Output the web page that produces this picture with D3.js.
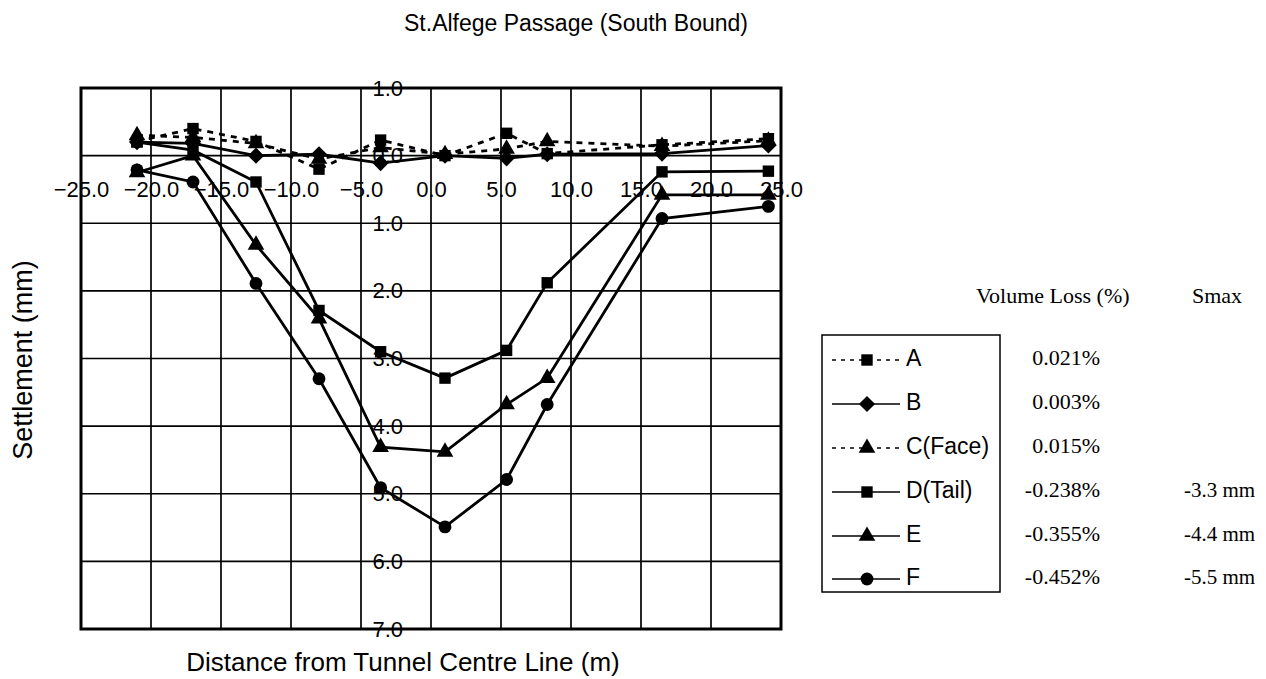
<!DOCTYPE html>
<html><head><meta charset="utf-8">
<script src="https://cdn.jsdelivr.net/npm/d3@7"></script>
<style>
body{margin:0;background:#fff;}
text{fill:#000;}
</style></head>
<body>
<svg id="chart" width="1266" height="679"></svg>
<script>
// ---- data ----
const distances = [-21, -17, -12.5, -8, -3.6, 1, 5.4, 8.3, 16.5, 24.1];
const seriesNames = ["A", "B", "C(Face)", "D(Tail)", "E", "F"];
const seriesA = [-0.21, -0.40, -0.21, 0.20, -0.23, 0.00, -0.33, -0.03, -0.16, -0.25];
const seriesB = [-0.20, -0.18, 0.00, -0.02, 0.11, 0.00, 0.04, -0.02, -0.03, -0.15];
const seriesC = [-0.30, -0.27, -0.18, 0.05, -0.12, -0.02, -0.10, -0.21, -0.14, -0.22];
const seriesD = [-0.20, -0.08, 0.39, 2.29, 2.90, 3.29, 2.88, 1.88, 0.24, 0.23];
const seriesE = [0.25, 0.00, 1.32, 2.41, 4.31, 4.38, 3.68, 3.29, 0.58, 0.58];
const seriesF = [0.21, 0.39, 1.89, 3.30, 4.91, 5.49, 4.79, 3.68, 0.93, 0.75];
const volumeLoss = ["0.021%", "0.003%", "0.015%", "-0.238%", "-0.355%", "-0.452%"];
const smax = ["", "", "", "-3.3 mm", "-4.4 mm", "-5.5 mm"];
const xTicks = [-25, -20, -15, -10, -5, 0, 5, 10, 15, 20, 25];
const yTicks = [-1, 0, 1, 2, 3, 4, 5, 6, 7];
const yTickLabels = ["1.0", "0.0", "1.0", "2.0", "3.0", "4.0", "5.0", "6.0", "7.0"];
const markers = ["square", "diamond", "triangle", "square", "triangle", "circle"];
const dashed = [true, false, true, false, false, false];

const svg = d3.select("#chart");
const x = d3.scaleLinear().domain([-25, 25]).range([81, 781]);
const y = d3.scaleLinear().domain([-1, 7]).range([88, 629]);
const sans = "'Liberation Sans', Arial, sans-serif";
const serif = "'Liberation Serif', 'Times New Roman', serif";

// gridlines
const grid = svg.append("g");
grid.selectAll("line.v").data(xTicks).join("line")
  .attr("x1", d => x(d)).attr("x2", d => x(d)).attr("y1", y(-1)).attr("y2", y(7))
  .attr("stroke", "#000").attr("stroke-width", 1.7);
grid.selectAll("line.h").data(yTicks).join("line")
  .attr("y1", d => y(d)).attr("y2", d => y(d)).attr("x1", x(-25)).attr("x2", x(25))
  .attr("stroke", "#000").attr("stroke-width", 1.7);

// axes (labels only)
const xAxis = d3.axisBottom(x).tickValues(xTicks).tickSize(0).tickPadding(26)
  .tickFormat(d3.format(".1f"));
const gx = svg.append("g").attr("transform", `translate(0,${y(0)})`).call(xAxis);
gx.select(".domain").remove();
gx.selectAll("text").attr("font-family", sans).attr("font-size", 22).attr("fill", "#000");

const yAxis = d3.axisLeft(y).tickValues(yTicks).tickSize(0).tickPadding(28)
  .tickFormat((d, i) => yTickLabels[i]);
const gy = svg.append("g").attr("transform", `translate(${x(0)},0)`).call(yAxis);
gy.select(".domain").remove();
gy.selectAll("text").attr("font-family", sans).attr("font-size", 22).attr("fill", "#000");

// frame
svg.append("rect").attr("x", x(-25)).attr("y", y(-1))
  .attr("width", x(25) - x(-25)).attr("height", y(7) - y(-1))
  .attr("fill", "none").attr("stroke", "#000").attr("stroke-width", 3);

// series
const allSeries = [seriesA, seriesB, seriesC, seriesD, seriesE, seriesF];
const squareDiamond = {
  draw(ctx, size) {
    const r = Math.sqrt(size / 2);
    ctx.moveTo(0, -r); ctx.lineTo(r, 0); ctx.lineTo(0, r); ctx.lineTo(-r, 0); ctx.closePath();
  }
};
const symbolFor = {
  square: d3.symbol().type(d3.symbolSquare).size(130),
  diamond: d3.symbol().type(squareDiamond).size(130),
  triangle: d3.symbol().type(d3.symbolTriangle).size(120),
  circle: d3.symbol().type(d3.symbolCircle).size(130)
};
const line = d3.line().x(d => x(d[0])).y(d => y(d[1]));
allSeries.forEach((vals, i) => {
  const pts = distances.map((d, j) => [d, vals[j]]);
  svg.append("path").datum(pts).attr("d", line).attr("fill", "none")
    .attr("stroke", "#000").attr("stroke-width", 2.8)
    .attr("stroke-dasharray", dashed[i] ? "6,6" : null);
  svg.append("g").selectAll("path").data(pts).join("path")
    .attr("transform", d => `translate(${x(d[0])},${y(d[1])})`)
    .attr("d", symbolFor[markers[i]]()).attr("fill", "#000");
});

// title
svg.append("text").attr("x", 576).attr("y", 25).attr("text-anchor", "middle")
  .attr("dominant-baseline", "middle").attr("font-family", sans).attr("font-size", 23)
  .text("St.Alfege Passage (South Bound)");

// axis titles
svg.append("text").attr("x", 403).attr("y", 664).attr("text-anchor", "middle")
  .attr("dominant-baseline", "middle").attr("font-family", sans).attr("font-size", 26)
  .text("Distance from Tunnel Centre Line (m)");
svg.append("text").attr("transform", "translate(25,360) rotate(-90)").attr("text-anchor", "middle")
  .attr("dominant-baseline", "middle").attr("font-family", sans).attr("font-size", 27)
  .text("Settlement (mm)");

// legend
const rowY = [360, 404, 448, 492, 536, 579];
svg.append("rect").attr("x", 822).attr("y", 335).attr("width", 178).attr("height", 257)
  .attr("fill", "none").attr("stroke", "#000").attr("stroke-width", 1.5);
seriesNames.forEach((name, i) => {
  const g = svg.append("g").attr("transform", `translate(0,${rowY[i]})`);
  g.append("line").attr("x1", 832).attr("x2", 900).attr("y1", 0).attr("y2", 0)
    .attr("stroke", "#000").attr("stroke-width", 1.6)
    .attr("stroke-dasharray", dashed[i] ? "4,5" : null);
  g.append("path").attr("transform", "translate(867,0)")
    .attr("d", symbolFor[markers[i]]()).attr("fill", "#000");
  g.append("text").attr("x", 906).attr("y", 0).attr("dominant-baseline", "middle")
    .attr("font-family", sans).attr("font-size", 23).text(name);
  svg.append("text").attr("x", 1100).attr("y", rowY[i]).attr("text-anchor", "end")
    .attr("dominant-baseline", "middle").attr("font-family", serif).attr("font-size", 22)
    .text(volumeLoss[i]);
  if (smax[i]) svg.append("text").attr("x", 1184).attr("y", rowY[i])
    .attr("dominant-baseline", "middle").attr("font-family", serif).attr("font-size", 21)
    .text(smax[i]);
});
svg.append("text").attr("x", 976).attr("y", 298).attr("dominant-baseline", "middle")
  .attr("font-family", serif).attr("font-size", 22).text("Volume Loss (%)");
svg.append("text").attr("x", 1192).attr("y", 298).attr("dominant-baseline", "middle")
  .attr("font-family", serif).attr("font-size", 22).text("Smax");
</script>
</body></html>
